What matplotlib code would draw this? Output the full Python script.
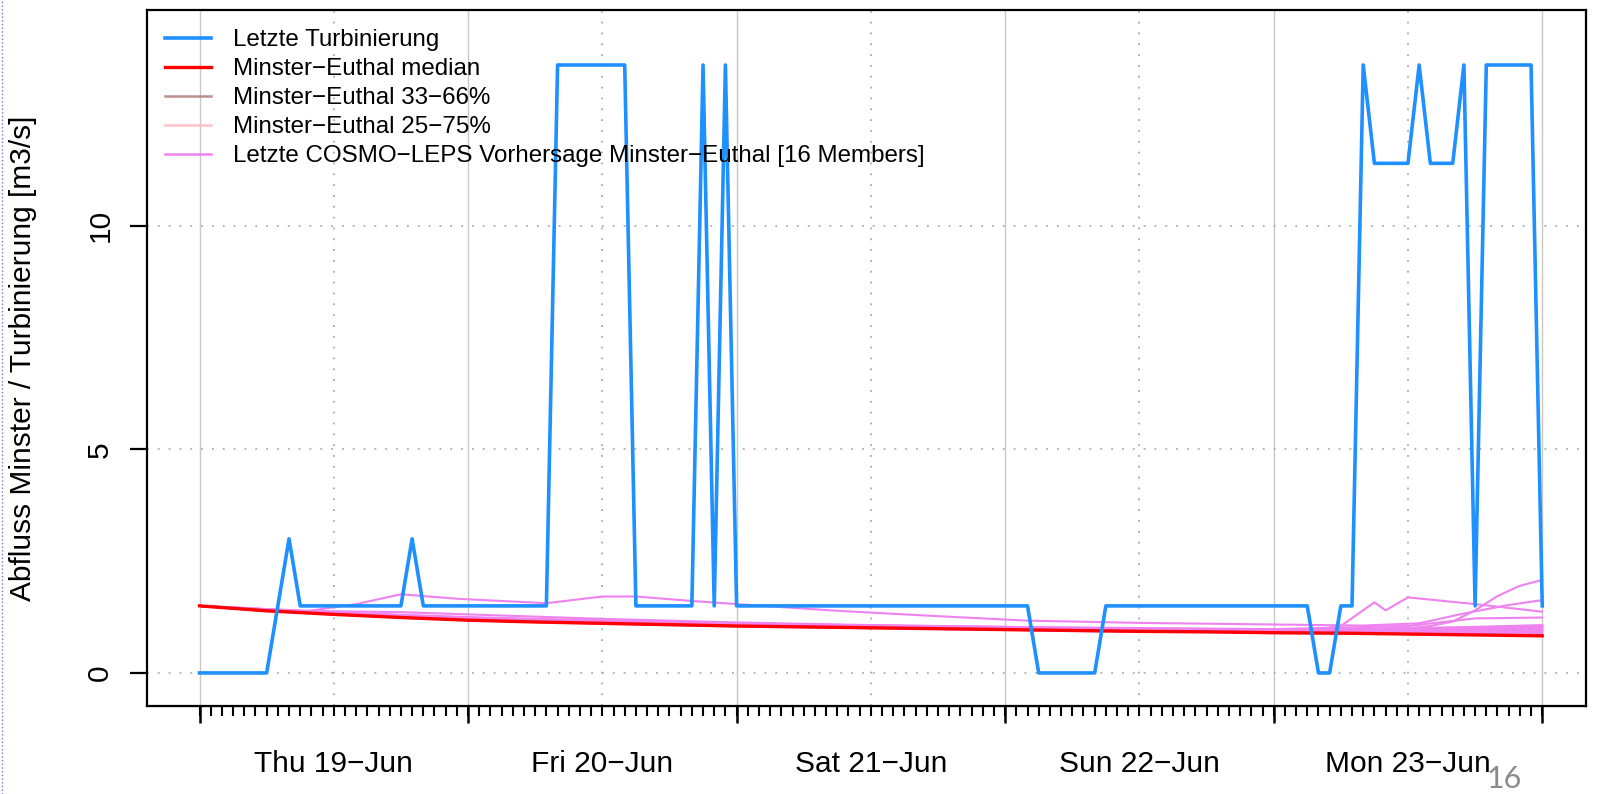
import matplotlib
matplotlib.use('Agg')
import matplotlib.pyplot as plt
from matplotlib.lines import Line2D

plt.rcParams['font.family'] = ['Liberation Sans', 'DejaVu Sans']

# hours since Thu 19-Jun 00:00
day_hours = [0, 24, 48, 72, 96, 120]
noon_hours = [12, 36, 60, 84, 108]
day_labels = ['Thu 19\u2212Jun', 'Fri 20\u2212Jun', 'Sat 21\u2212Jun', 'Sun 22\u2212Jun', 'Mon 23\u2212Jun']

# Letzte Turbinierung
turb_hours = [0, 6, 8, 9, 18, 19, 20, 31, 32, 38, 39, 44, 45, 46, 47, 48, 74, 75, 80, 81,
              99, 100, 101, 102, 103, 104, 105, 108, 109, 110, 112, 113, 114, 115, 119, 120]
turb_vals = [0, 0, 3.0, 1.5, 1.5, 3.0, 1.5, 1.5, 13.6, 13.6, 1.5, 1.5, 13.6, 1.5, 13.6, 1.5, 1.5, 0, 0, 1.5,
             1.5, 0, 0, 1.5, 1.5, 13.6, 11.4, 11.4, 13.6, 11.4, 11.4, 13.6, 1.5, 13.6, 13.6, 1.5]

# forecast, 6-hourly
fc_hours = [0, 6, 12, 18, 24, 30, 36, 42, 48, 54, 60, 66, 72, 78, 84, 90, 96, 102, 108, 114, 120]
median = [1.50, 1.39, 1.31, 1.24, 1.18, 1.14, 1.11, 1.08, 1.05, 1.03, 1.01, 0.99, 0.97, 0.95, 0.93, 0.92, 0.90, 0.89, 0.87, 0.85, 0.83]
q25 = [1.50, 1.39, 1.31, 1.24, 1.18, 1.14, 1.11, 1.08, 1.05, 1.03, 1.01, 0.99, 0.97, 0.95, 0.93, 0.92, 0.90, 0.89, 0.88, 0.87, 0.86]
q75 = [1.50, 1.41, 1.34, 1.28, 1.23, 1.19, 1.15, 1.12, 1.09, 1.07, 1.05, 1.03, 1.01, 0.99, 0.98, 0.97, 0.96, 0.97, 0.99, 1.02, 1.06]
q33 = [1.50, 1.39, 1.31, 1.25, 1.19, 1.15, 1.12, 1.09, 1.06, 1.04, 1.02, 1.00, 0.98, 0.96, 0.94, 0.93, 0.91, 0.90, 0.89, 0.88, 0.87]
q66 = [1.50, 1.40, 1.33, 1.27, 1.22, 1.18, 1.14, 1.11, 1.08, 1.06, 1.04, 1.02, 1.00, 0.98, 0.97, 0.96, 0.94, 0.94, 0.95, 0.97, 0.99]

# COSMO-LEPS members close to the median
members = [
    [1.50, 1.39, 1.31, 1.24, 1.18, 1.14, 1.11, 1.08, 1.05, 1.03, 1.01, 0.99, 0.97, 0.95, 0.93, 0.92, 0.90, 0.89, 0.88, 0.86, 0.85],
    [1.50, 1.39, 1.32, 1.25, 1.19, 1.15, 1.12, 1.09, 1.06, 1.04, 1.02, 1.00, 0.98, 0.96, 0.94, 0.93, 0.91, 0.90, 0.89, 0.88, 0.87],
    [1.50, 1.40, 1.33, 1.27, 1.21, 1.17, 1.13, 1.10, 1.07, 1.05, 1.03, 1.01, 0.99, 0.97, 0.95, 0.94, 0.92, 0.92, 0.93, 0.94, 0.95],
    [1.50, 1.40, 1.33, 1.27, 1.22, 1.18, 1.14, 1.11, 1.08, 1.06, 1.04, 1.02, 1.00, 0.98, 0.97, 0.96, 0.95, 0.96, 0.98, 1.01, 1.04],
    [1.50, 1.41, 1.35, 1.30, 1.25, 1.21, 1.17, 1.14, 1.11, 1.08, 1.06, 1.04, 1.02, 1.00, 0.99, 0.98, 0.97, 0.98, 1.00, 1.03, 1.07],
    [1.50, 1.40, 1.38, 1.36, 1.31, 1.26, 1.21, 1.17, 1.13, 1.10, 1.07, 1.05, 1.03, 1.01, 0.99, 0.98, 0.97, 0.97, 0.98, 0.99, 1.00],
    [1.50, 1.39, 1.31, 1.24, 1.18, 1.14, 1.10, 1.07, 1.04, 1.02, 1.00, 0.98, 0.96, 0.94, 0.92, 0.91, 0.89, 0.88, 0.87, 0.85, 0.84],
    [1.50, 1.40, 1.32, 1.26, 1.20, 1.16, 1.12, 1.09, 1.06, 1.04, 1.02, 1.00, 0.98, 0.96, 0.95, 0.94, 0.93, 0.93, 0.94, 0.96, 0.98],
    [1.50, 1.41, 1.34, 1.29, 1.24, 1.19, 1.15, 1.12, 1.09, 1.06, 1.04, 1.02, 1.00, 0.98, 0.96, 0.95, 0.94, 0.94, 0.96, 1.00, 1.05],
    [1.50, 1.39, 1.31, 1.25, 1.19, 1.15, 1.11, 1.08, 1.05, 1.03, 1.01, 0.99, 0.97, 0.95, 0.94, 0.92, 0.91, 0.90, 0.90, 0.91, 0.92],
    [1.50, 1.40, 1.34, 1.28, 1.23, 1.20, 1.17, 1.14, 1.11, 1.08, 1.05, 1.03, 1.01, 0.99, 0.98, 0.97, 0.96, 0.97, 0.99, 1.02, 1.05],
    [1.50, 1.39, 1.32, 1.26, 1.20, 1.16, 1.12, 1.09, 1.07, 1.05, 1.03, 1.01, 0.99, 0.97, 0.96, 0.95, 0.94, 0.95, 0.97, 1.00, 1.02],
]

# members that stand out
mem_a_hours = [0, 6, 9, 14, 18, 23, 31, 36, 39, 44, 48, 57, 66, 74, 84, 94, 104, 109, 113, 117, 120]
mem_a = [1.50, 1.38, 1.36, 1.54, 1.76, 1.66, 1.56, 1.71, 1.71, 1.61, 1.54, 1.39, 1.27, 1.17, 1.12, 1.09, 1.06, 1.11, 1.33, 1.52, 1.63]
mem_b_hours = [0, 24, 48, 72, 96, 100, 102, 105, 106, 108, 114, 120]
mem_b = [1.50, 1.20, 1.08, 1.00, 0.95, 0.98, 1.05, 1.58, 1.40, 1.69, 1.54, 1.37]
mem_c_hours = [0, 24, 48, 72, 96, 108, 110, 112, 114, 116, 118, 120]
mem_c = [1.50, 1.20, 1.07, 0.99, 0.95, 1.00, 1.05, 1.15, 1.40, 1.72, 1.95, 2.08]
mem_d_hours = [0, 24, 48, 72, 96, 108, 114, 120]
mem_d = [1.50, 1.22, 1.10, 1.03, 0.98, 1.05, 1.22, 1.24]

c_turb = '#1e90ff'
c_med = '#ff0000'
c_33 = '#bc8f8f'
c_25 = '#ffc0cb'
c_mem = '#ee82ee'

fig = plt.figure(figsize=(16.04, 7.94), dpi=100)
ax = fig.add_axes([0.0916, 0.1108, 0.8971, 0.8766])

# grid
for d in day_hours:
    ax.axvline(d, color='#c8c8c8', lw=1.0, zorder=0)
for n in noon_hours:
    ax.axvline(n, color='#a8a8b8', lw=1.3, ls=(0, (1, 5)), zorder=0)
for yv in [0, 5, 10]:
    ax.axhline(yv, color='#a8b0b0', lw=1.3, ls=(0, (1, 5)), zorder=0)

ax.fill_between(fc_hours, q25, q75, color=c_25, alpha=0.7, lw=0, zorder=1)
ax.fill_between(fc_hours, q33, q66, color=c_33, alpha=0.6, lw=0, zorder=1)

for m in members:
    ax.plot(fc_hours, m, color=c_mem, lw=1.5, zorder=2)
ax.plot(mem_a_hours, mem_a, color=c_mem, lw=1.5, zorder=2)
ax.plot(mem_b_hours, mem_b, color=c_mem, lw=1.5, zorder=2)
ax.plot(mem_c_hours, mem_c, color=c_mem, lw=1.5, zorder=2)
ax.plot(mem_d_hours, mem_d, color=c_mem, lw=1.5, zorder=2)

ax.plot(fc_hours, median, color=c_med, lw=2.4, zorder=3)
ax.plot(turb_hours, turb_vals, color=c_turb, lw=2.6, zorder=4)

ax.set_xlim(-4.7, 123.9)
ax.set_ylim(-0.74, 14.83)

# x axis: labels at noon, hourly minor ticks, long ticks at midnight
ax.set_xticks(noon_hours)
ax.set_xticklabels(day_labels)
ax.set_xticks(range(0, 121), minor=True)
ax.xaxis.remove_overlapping_locs = False
ax.tick_params(axis='x', which='major', length=0, pad=32, labelsize=21.5)
ax.tick_params(axis='x', which='minor', length=7.2, width=1.5, direction='out')
sec = ax.secondary_xaxis('bottom')
sec.set_xticks(day_hours)
sec.tick_params(length=12.5, width=1.8, labelbottom=False)

ax.set_yticks([0, 5, 10])
ax.tick_params(axis='y', length=12.5, width=1.6, pad=11, labelsize=21.5, labelrotation=90)
for lbl in ax.get_yticklabels():
    lbl.set_va('center')

ax.set_ylabel('Abfluss Minster / Turbinierung [m3/s]', fontsize=21.5, va='center')
ax.yaxis.set_label_coords(-0.0862, 0.5)

for s in ax.spines.values():
    s.set_linewidth(1.6)

handles = [Line2D([], [], color=c_turb, lw=2.6),
           Line2D([], [], color=c_med, lw=2.4),
           Line2D([], [], color=c_33, lw=1.8),
           Line2D([], [], color=c_25, lw=1.8),
           Line2D([], [], color=c_mem, lw=1.8)]
labels = ['Letzte Turbinierung',
          'Minster\u2212Euthal median',
          'Minster\u2212Euthal 33\u221266%',
          'Minster\u2212Euthal 25\u221275%',
          'Letzte COSMO\u2212LEPS Vorhersage Minster\u2212Euthal [16 Members]']
ax.legend(handles, labels, loc='upper left', bbox_to_anchor=(0.0129, 0.9727), frameon=False,
          fontsize=17.4, handlelength=1.9, handletextpad=0.9, labelspacing=0.29,
          borderpad=0, borderaxespad=0)

# slide page number and border
fig.text(0.9377, 0.019, '16', fontsize=22, color='#8c8c8c', family='Lato', ha='center', va='center')
fig.add_artist(Line2D([0.001, 0.001], [0, 1], transform=fig.transFigure, color='#8a6fd1', lw=1, ls=':'))

fig.savefig('out.png', dpi=100)
